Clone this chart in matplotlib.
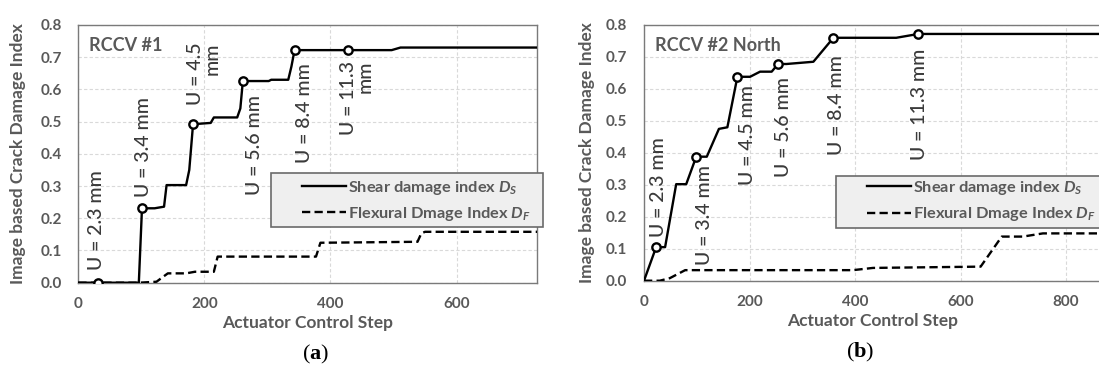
import numpy as np
import matplotlib
matplotlib.use("Agg")
import matplotlib.pyplot as plt
from matplotlib.patches import Rectangle

plt.rcParams['font.family'] = ['Lato', 'DejaVu Sans']
plt.rcParams['mathtext.fontset'] = 'custom'
plt.rcParams['mathtext.it'] = 'Lato:italic:bold'
plt.rcParams['mathtext.rm'] = 'Lato:bold'
plt.rcParams['mathtext.bf'] = 'Liberation Serif:bold'

# ---- panel (a): RCCV #1 ----
a_shear_x = [0, 96, 101, 121, 136, 140, 171, 176, 182, 210, 215, 252, 257, 261, 302, 306, 333, 338, 343, 497, 511, 728]
a_shear_y = [0, 0, 0.231, 0.231, 0.236, 0.303, 0.303, 0.35, 0.492, 0.496, 0.513, 0.513, 0.541, 0.626,
             0.626, 0.63, 0.63, 0.671, 0.722, 0.722, 0.73, 0.73]
a_mark_x = [32, 101, 182, 262, 343, 427]
a_mark_y = [0.0, 0.231, 0.492, 0.626, 0.722, 0.722]
a_flex_x = [0, 96, 124, 135, 142, 171, 185, 215, 221, 377, 384, 538, 544, 550, 728]
a_flex_y = [0, 0, 0.003, 0.019, 0.029, 0.029, 0.034, 0.034, 0.081, 0.081, 0.124, 0.127, 0.153, 0.158, 0.158]
a_labels = ["U = 2.3 mm", "U = 3.4 mm", "U = 4.5\nmm", "U = 5.6 mm", "U = 8.4 mm", "U = 11.3\nmm"]
a_label_x = [29, 104, 199, 280, 359, 442]
a_label_y = [0.039, 0.266, 0.551, 0.272, 0.372, 0.459]

# ---- panel (b): RCCV #2 North ----
b_shear_x = [0, 23, 40, 61, 80, 99, 119, 142, 158, 177, 201, 220, 242, 254, 270, 321, 359, 478, 520, 868]
b_shear_y = [0, 0.105, 0.105, 0.302, 0.302, 0.388, 0.388, 0.475, 0.48, 0.638, 0.638, 0.654, 0.654,
             0.678, 0.678, 0.685, 0.760, 0.760, 0.772, 0.772]
b_mark_x = [23, 99, 177, 254, 359, 520]
b_mark_y = [0.105, 0.388, 0.638, 0.678, 0.760, 0.772]
b_flex_x = [0, 30, 49, 78, 396, 434, 638, 678, 718, 756, 868]
b_flex_y = [0, 0, 0.008, 0.033, 0.033, 0.04, 0.044, 0.138, 0.138, 0.148, 0.148]
b_labels = ["U = 2.3 mm", "U = 3.4 mm", "U = 4.5 mm", "U = 5.6 mm", "U = 8.4 mm", "U = 11.3 mm"]
b_label_x = [27, 115, 197, 264, 365, 522]
b_label_y = [0.138, 0.049, 0.30, 0.325, 0.393, 0.378]

y_ticks = np.arange(0, 0.81, 0.1)
GRAY = '#595959'
DARK = '#3a3a3a'

fig = plt.figure(figsize=(10.99, 3.69), dpi=100)
W, H = 1099.0, 369.0
ax1 = fig.add_axes([78.3 / W, (H - 282.7) / H, 459 / W, 257.7 / H])
ax2 = fig.add_axes([644 / W, (H - 280.7) / H, 458 / W, 255.7 / H])


def draw_panel(ax, sx, sy, mx, my, fx, fy, labels, lx, ly, xmax, xticks, title, ylab_x):
    ax.set_axisbelow(True)
    ax.grid(True, color='#d9d9d9', linestyle=(0, (3, 2)), linewidth=0.8)
    ax.plot(sx, sy, color='black', lw=1.7, label=r'Shear damage index $D_S$', zorder=3)
    ax.plot(fx, fy, color='black', lw=1.7, linestyle=(0, (3.5, 1.8)),
            label=r'Flexural Dmage Index $D_F$', zorder=3)
    ax.plot(mx, my, linestyle='none', marker='o', ms=6, mfc='white', mec='black', mew=1.7, zorder=4)
    for t, x, y in zip(labels, lx, ly):
        ax.text(x, y, t, rotation=90, ha='center', va='bottom', multialignment='right',
                fontsize=14, fontweight='medium', color=DARK, linespacing=1.0)
    ax.set_xlim(0, xmax)
    ax.set_ylim(0, 0.8)
    ax.set_xticks(xticks)
    ax.set_yticks(y_ticks)
    ax.set_yticklabels(['%.1f' % v for v in y_ticks])
    ax.tick_params(length=0, labelsize=11, labelcolor=GRAY)
    ax.tick_params(axis='x', pad=10)
    ax.tick_params(axis='y', pad=12)
    for lab in ax.get_xticklabels() + ax.get_yticklabels():
        lab.set_fontweight('bold')
    for sp in ax.spines.values():
        sp.set_color('#7a7a7a')
        sp.set_linewidth(1.0)
    ax.set_xlabel('Actuator Control Step', fontsize=12.5, fontweight='bold', color=GRAY)
    ax.set_ylabel('Image based Crack Damage Index', fontsize=12.5, fontweight='bold', color=GRAY)
    ax.xaxis.set_label_coords(0.5, -0.158)
    ax.xaxis.label.set_va('center')
    ax.yaxis.set_label_coords(ylab_x, 0.5)
    ax.yaxis.label.set_va('center')
    ax.text(0.024, 0.92, title, transform=ax.transAxes, fontsize=13, fontweight='bold',
            color=GRAY, va='center', ha='left')
    return ax


draw_panel(ax1, a_shear_x, a_shear_y, a_mark_x, a_mark_y, a_flex_x, a_flex_y,
           a_labels, a_label_x, a_label_y, 728, [0, 200, 400, 600], 'RCCV #1', -0.131)
draw_panel(ax2, b_shear_x, b_shear_y, b_mark_x, b_mark_y, b_flex_x, b_flex_y,
           b_labels, b_label_x, b_label_y, 868, [0, 200, 400, 600, 800], 'RCCV #2 North', -0.125)

# legend boxes
for ax, y0, y1, ymid in [(ax1, 0.215, 0.4245, 0.318), (ax2, 0.2073, 0.4106, 0.311)]:
    box = Rectangle((0.42, y0), 0.592, y1 - y0, transform=ax.transAxes, facecolor='#efefef',
                    edgecolor='#6a6a6a', linewidth=1.2, clip_on=False, zorder=5)
    ax.add_patch(box)
    leg = ax.legend(loc='center left', bbox_to_anchor=(0.487, ymid), frameon=False,
                    borderpad=0, borderaxespad=0, handlelength=2.7, handletextpad=0.12,
                    labelspacing=0.5, prop={'family': 'Lato', 'weight': 'bold', 'size': 11.8})
    leg.set_zorder(6)
    for t in leg.get_texts():
        t.set_color(GRAY)

fig.text(0.2874, 0.04, r'($\mathbf{a}$)', family='Liberation Serif', fontsize=16, ha='center', va='center')
fig.text(0.7825, 0.046, r'($\mathbf{b}$)', family='Liberation Serif', fontsize=16, ha='center', va='center')

fig.savefig('out.png', dpi=100)
